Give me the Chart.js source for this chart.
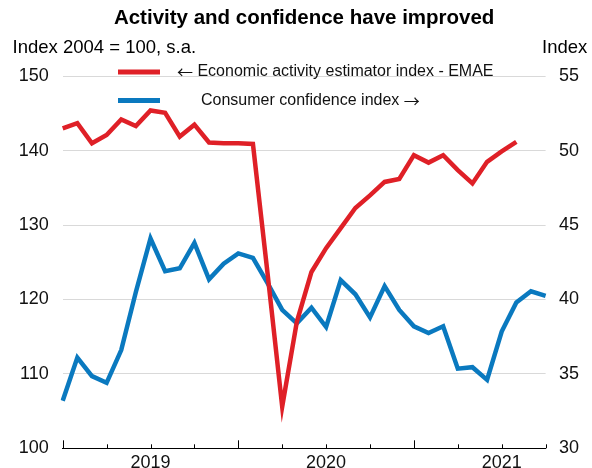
<!DOCTYPE html>
<html>
<head>
<meta charset="utf-8">
<script src="https://cdn.jsdelivr.net/npm/chart.js@4.4.1/dist/chart.umd.min.js"></script>
<style>
  html, body { margin: 0; padding: 0; background: #fff; }
  #wrap { width: 592px; height: 468px; }
</style>
</head>
<body>
<div id="wrap"><canvas id="chart"></canvas></div>
<script>
const months = [
  'Jan 2019','Feb 2019','Mar 2019','Apr 2019','May 2019','Jun 2019','Jul 2019','Aug 2019','Sep 2019','Oct 2019','Nov 2019','Dec 2019',
  'Jan 2020','Feb 2020','Mar 2020','Apr 2020','May 2020','Jun 2020','Jul 2020','Aug 2020','Sep 2020','Oct 2020','Nov 2020','Dec 2020',
  'Jan 2021','Feb 2021','Mar 2021','Apr 2021','May 2021','Jun 2021','Jul 2021','Aug 2021','Sep 2021','Oct 2021'
];

// EMAE, index 2004 = 100, s.a. (left axis)
const emae = [
  143.0, 143.7, 141.0, 142.1, 144.2, 143.3, 145.4, 145.1, 141.9, 143.5, 141.1, 141.0,
  141.0, 140.9, 123.5, 105.6, 117.0, 123.7, 126.9, 129.6, 132.3, 134.0, 135.8, 136.2,
  139.4, 138.4, 139.4, 137.4, 135.6, 138.5, 139.9, 141.2
];

// consumer confidence index (right axis)
const confidence = [
  33.2, 36.1, 34.85, 34.4, 36.6, 40.5, 44.1, 41.9, 42.1, 43.8, 41.35, 42.4,
  43.1, 42.8, 41.1, 39.3, 38.4, 39.45, 38.15, 41.3, 40.35, 38.8, 40.9, 39.3,
  38.2, 37.75, 38.2, 35.35, 35.45, 34.6, 37.85, 39.8, 40.55, 40.25
];

const leftTicks = [100, 110, 120, 130, 140, 150];
const rightTicks = [30, 35, 40, 45, 50, 55];

const titleText = 'Activity and confidence have improved';
const leftTitle = 'Index 2004 = 100, s.a.';
const rightTitle = 'Index';

const RED = '#df2027';
const BLUE = '#0a79bf';
const FONT = '"Liberation Sans", Arial, sans-serif';

// writes text, switching font for the arrow glyphs
function drawMixed(ctx, text, x, y, size) {
  const parts = text.split(/([\u2190\u2192])/);
  parts.forEach(p => {
    if (!p) return;
    ctx.font = /[\u2190\u2192]/.test(p) ? size + 'px "Noto Sans CJK SC"' : size + 'px ' + FONT;
    ctx.fillText(p, x, y);
    x += ctx.measureText(p).width;
  });
}

// title, axis titles, legend and inward tick marks
const decor = {
  id: 'decor',
  afterDraw(chart) {
    const ctx = chart.ctx;
    const area = chart.chartArea;
    const x = chart.scales.x;
    ctx.save();
    ctx.fillStyle = '#000';
    ctx.textBaseline = 'middle';

    ctx.font = 'bold 20.5px ' + FONT;
    ctx.textAlign = 'center';
    ctx.fillText(titleText, (area.left + area.right) / 2, 18);

    ctx.font = '18.5px ' + FONT;
    ctx.textAlign = 'left';
    ctx.fillText(leftTitle, 12.5, 48);
    ctx.fillText(rightTitle, 542, 48);

    // legend
    const items = [
      { ds: chart.data.datasets[0], y: 72, tx: 177 },
      { ds: chart.data.datasets[1], y: 100.5, tx: 201 }
    ];
    items.forEach(it => {
      ctx.fillStyle = it.ds.borderColor;
      ctx.fillRect(118, it.y - 2.5, 42, 5);
      ctx.fillStyle = '#111';
      drawMixed(ctx, it.ds.label, it.tx, it.y, 16);
    });

    // tick marks pointing up from the axis line
    ctx.strokeStyle = '#000';
    ctx.lineWidth = 1;
    ctx.beginPath();
    for (let i = 0; i < months.length; i += 3) {
      const px = Math.round(x.getPixelForValue(i)) + 0.5;
      const len = months[i].startsWith('Jan') ? 8 : 4;
      ctx.moveTo(px, area.bottom);
      ctx.lineTo(px, area.bottom - len);
    }
    ctx.stroke();
    ctx.restore();
  }
};

const data = {
  labels: months,
  datasets: [{
    label: '\u2190 Economic activity estimator index - EMAE',
    data: emae,
    yAxisID: 'y',
    borderColor: RED,
    backgroundColor: RED,
    borderWidth: 4.5,
    pointRadius: 0,
    tension: 0
  }, {
    label: 'Consumer confidence index \u2192',
    data: confidence,
    yAxisID: 'y1',
    borderColor: BLUE,
    backgroundColor: BLUE,
    borderWidth: 4.5,
    pointRadius: 0,
    tension: 0
  }]
};

function fixWidth(w) {
  return function(scale) {
    scale.width = w;
    scale.paddingTop = 0;
    scale.paddingBottom = 0;
  };
}

const config = {
  type: 'line',
  data,
  options: {
    responsive: true,
    maintainAspectRatio: false,
    animation: false,
    layout: { padding: { top: 76.3, left: 0, right: 0, bottom: 0 } },
    scales: {
      x: {
        offset: false,
        grid: { display: false, drawTicks: false },
        border: { display: true, color: '#000', width: 1 },
        ticks: {
          autoSkip: false,
          maxRotation: 0,
          padding: 4,
          color: '#111',
          font: { family: FONT, size: 18 },
          callback: function(val) {
            const lab = this.getLabelForValue(val);
            return lab.startsWith('Jul') ? lab.slice(4) : '';
          }
        },
        afterFit(scale) { scale.height = 468 - 448.3; }
      },
      y: {
        position: 'left',
        min: leftTicks[0],
        max: leftTicks[leftTicks.length - 1],
        afterBuildTicks(scale) { scale.ticks = leftTicks.map(v => ({ value: v })); },
        grid: {
          drawTicks: false,
          color: c => c.tick && c.tick.value === 100 ? 'rgba(0,0,0,0)' : '#d9d9d9',
          lineWidth: 1
        },
        border: { display: false },
        ticks: { padding: 14, color: '#111', font: { family: FONT, size: 18 } },
        afterFit: fixWidth(62.7)
      },
      y1: {
        position: 'right',
        min: rightTicks[0],
        max: rightTicks[rightTicks.length - 1],
        afterBuildTicks(scale) { scale.ticks = rightTicks.map(v => ({ value: v })); },
        grid: { display: false, drawTicks: false },
        border: { display: false },
        ticks: { padding: 13.4, color: '#111', font: { family: FONT, size: 18 } },
        afterFit: fixWidth(592 - 545.6)
      }
    },
    plugins: {
      legend: { display: false },
      title: { display: false },
      tooltip: { enabled: false }
    }
  },
  plugins: [decor]
};

const myChart = new Chart(document.getElementById('chart'), config);
</script>
</body>
</html>
